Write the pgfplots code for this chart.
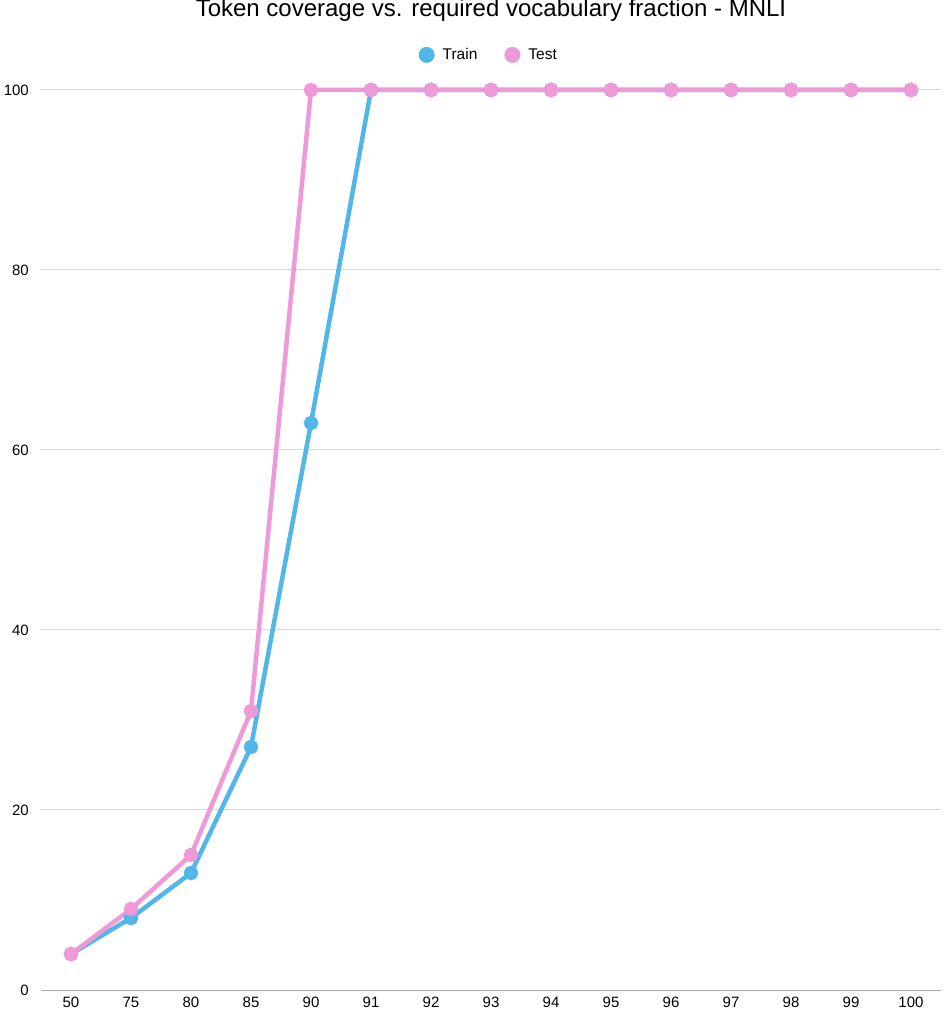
\documentclass[border=0pt]{standalone}
\usepackage{fontspec}
\setmainfont{Liberation Sans}
\usepackage{pgfplots}
\pgfplotsset{compat=1.18}
\definecolor{trainc}{RGB}{82,183,232}
\definecolor{testc}{RGB}{238,153,216}
\definecolor{gridc}{RGB}{217,217,217}
\definecolor{axisc}{RGB}{170,170,170}
\begin{document}
\begin{tikzpicture}
\path[use as bounding box] (-41pt,-22pt) rectangle (903pt,990pt);
\begin{axis}[
  at={(0pt,0pt)}, anchor=south west,
  scale only axis, width=900pt, height=900pt,
  xmin=-0.5, xmax=14.5, ymin=0, ymax=100,
  clip=false,
  axis line style={draw=none},
  axis x line*=bottom, axis y line*=left,
  xtick={0,...,14},
  xticklabels={50,75,80,85,90,91,92,93,94,95,96,97,98,99,100},
  ytick={0,20,40,60,80,100},
  major tick length=0pt,
  ymajorgrids, grid style={gridc, line width=1pt},
  tick label style={font=\fontsize{15}{18}\selectfont},
  /pgf/number format/assume math mode=true,
  yticklabel style={anchor=east, inner sep=0pt, xshift=-12pt},
  xticklabel style={anchor=north, inner sep=0pt, yshift=-7pt},
  legend style={at={(0.4975,1.039)}, anchor=center, draw=none, fill=none,
    legend columns=2, font=\fontsize{15.5}{18}\selectfont,
    /tikz/every even column/.append style={column sep=25pt}},
  legend image code/.code={\fill[draw=none] (0pt,0pt) circle (8pt); \path[draw=none,fill=none] (8pt,0pt) -- (14pt,0pt);},
]
\draw[axisc, line width=1pt] (axis cs:-0.5,0) -- (axis cs:14.5,0);
\addplot[trainc, line width=4.5pt, mark=*, mark size=5pt, mark options={fill=trainc, draw=none}] coordinates {
(0,4) (1,8) (2,13) (3,27) (4,63) (5,100) (6,100) (7,100) (8,100) (9,100) (10,100) (11,100) (12,100) (13,100) (14,100)};
\addlegendentry{Train}
\addplot[testc, line width=4.5pt, mark=*, mark size=5pt, mark options={fill=testc, draw=none}] coordinates {
(0,4) (1,9) (2,15) (3,31) (4,100) (5,100) (6,100) (7,100) (8,100) (9,100) (10,100) (11,100) (12,100) (13,100) (14,100)};
\addlegendentry{Test}
\end{axis}
\node[anchor=base, font=\fontsize{24}{28}\selectfont, inner sep=0pt] at (450pt,973pt) {Token coverage vs. required vocabulary fraction - MNLI};
\end{tikzpicture}
\end{document}
